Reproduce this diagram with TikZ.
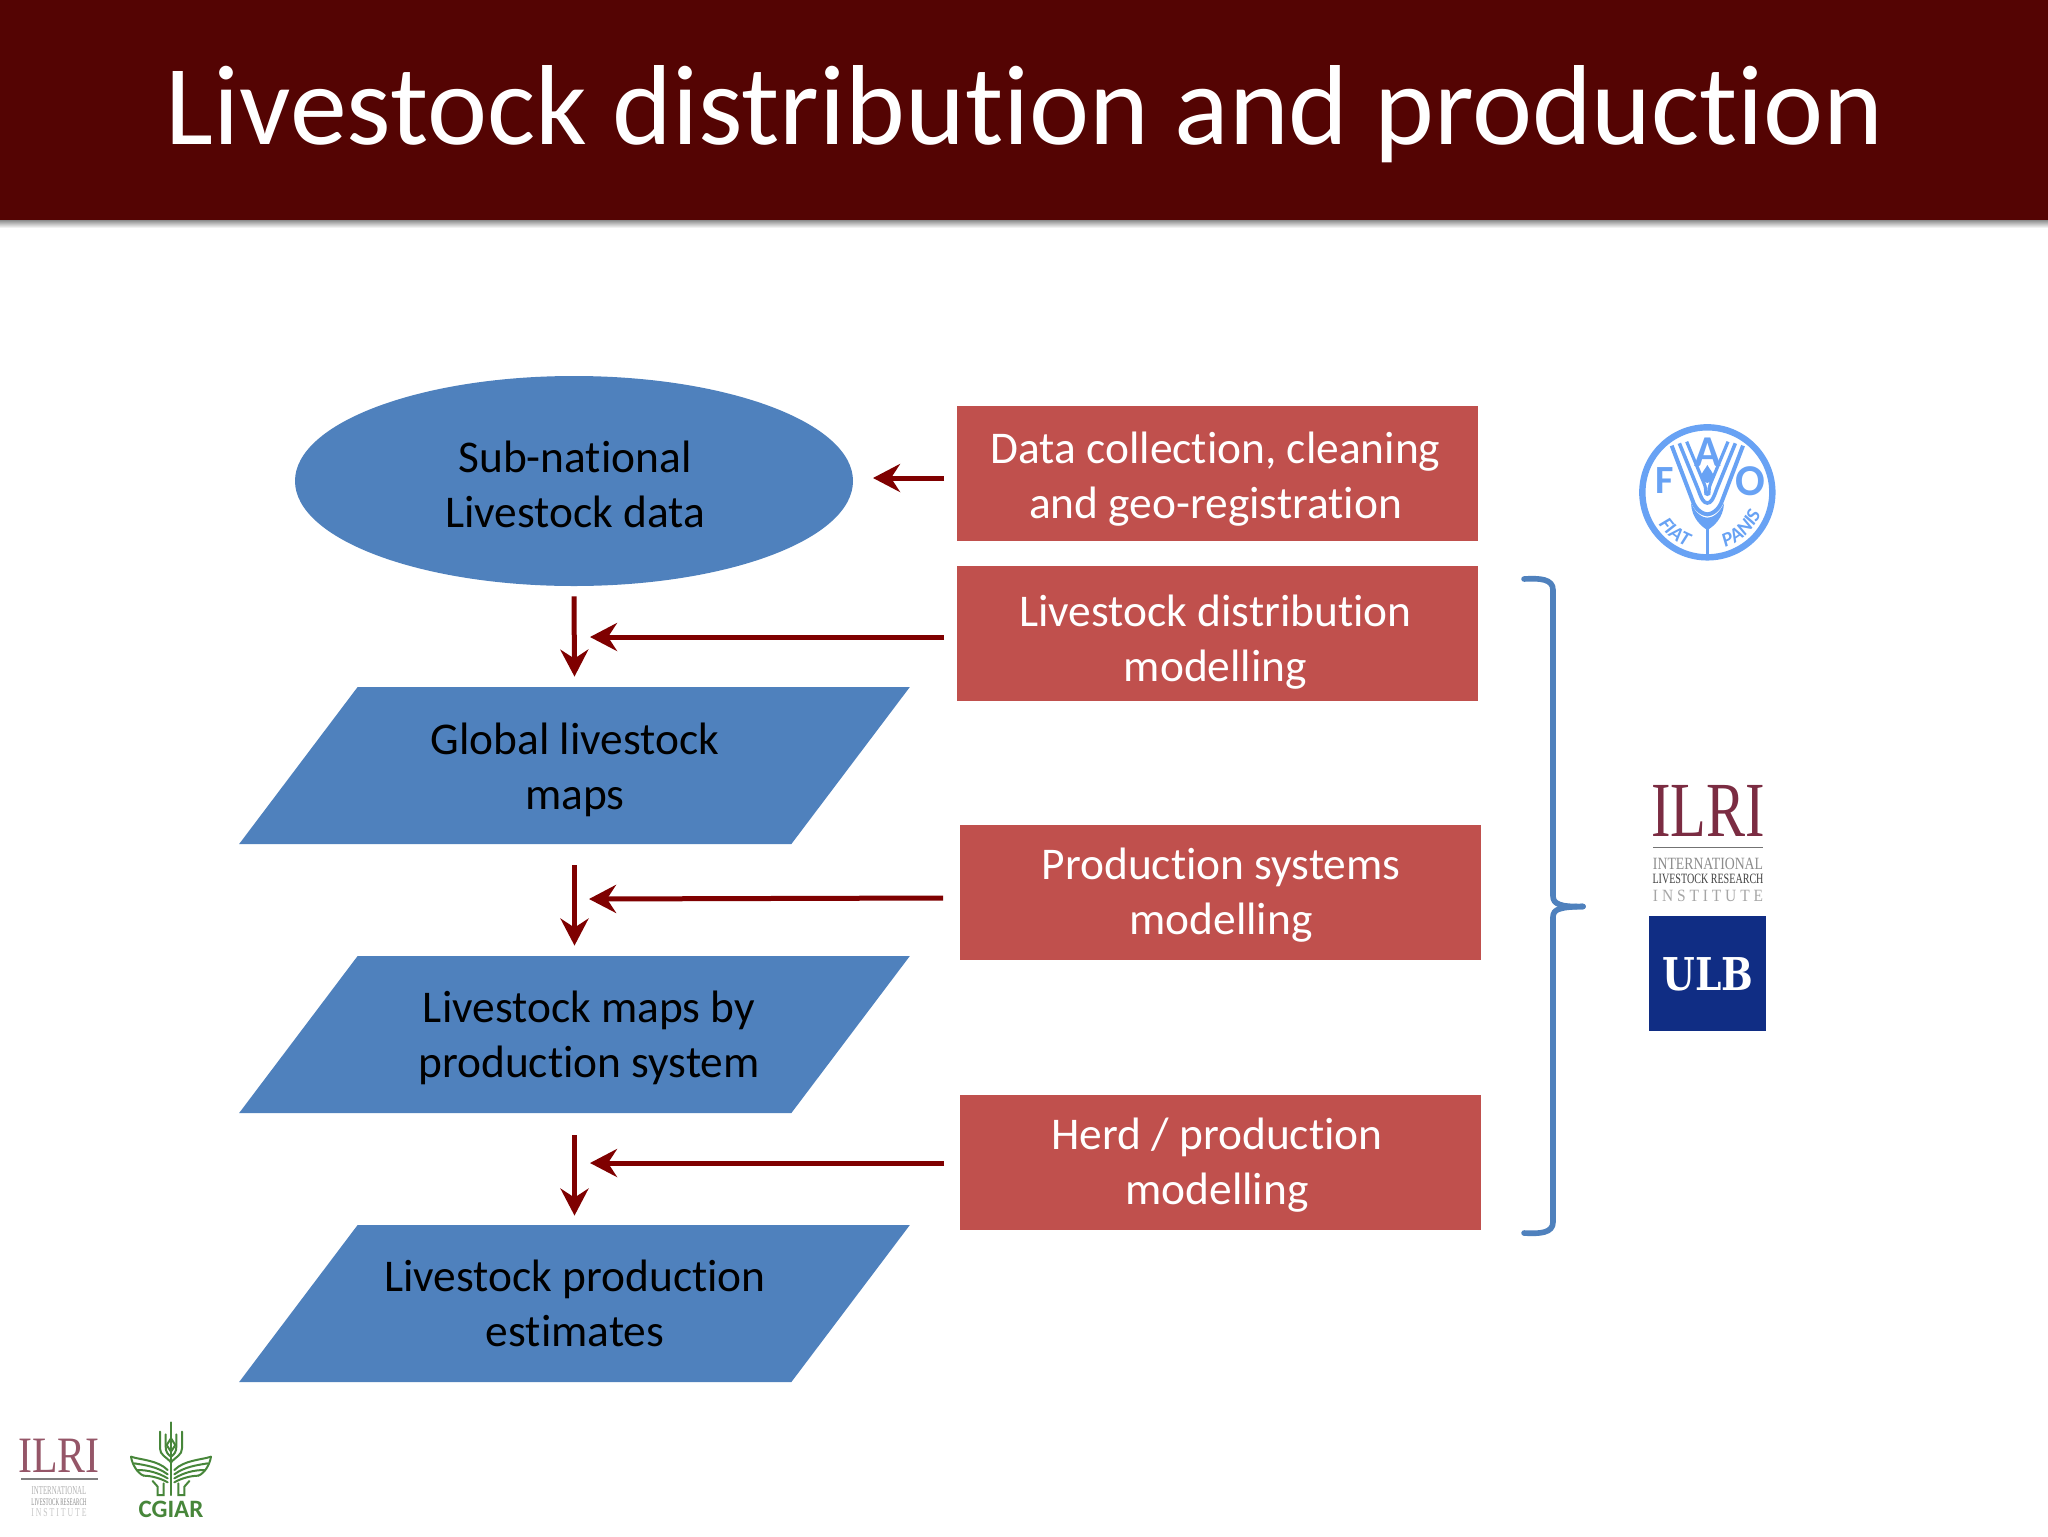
\documentclass[tikz,border=0pt]{standalone}
\usepackage{fontspec}
\setmainfont{Carlito}[Ligatures={NoCommon}]
\newfontfamily\seriffont{Liberation Serif}
\newfontfamily\slabfont{DejaVu Serif}
\usetikzlibrary{arrows.meta,shapes.geometric,decorations.text,calc}
\definecolor{headred}{HTML}{540403}
\definecolor{boxblue}{HTML}{4F81BD}
\definecolor{boxred}{HTML}{C0504D}
\definecolor{arrowred}{HTML}{7F0000}
\definecolor{faoblue}{HTML}{68A2F4}
\definecolor{ilrired}{HTML}{7B2C42}
\definecolor{ulbblue}{HTML}{102D84}
\definecolor{cgreen}{HTML}{47863A}
\tikzset{
  oval/.style={shape=ellipse,fill=boxblue,minimum width=279pt,minimum height=105pt,inner sep=0pt},
  para/.style={shape=trapezium,trapezium stretches=true,trapezium left angle=70,trapezium right angle=110,
     fill=boxblue,minimum width=335.5pt,minimum height=78.5pt,inner sep=0pt},
  redbox/.style={shape=rectangle,fill=boxred,minimum width=260.5pt,minimum height=67.5pt,inner sep=0pt},
  dark/.style={align=center,text=black,font=\fontsize{22.7}{27.4}\selectfont,inner sep=0pt},
  light/.style={align=center,text=white,font=\fontsize{22.7}{27.4}\selectfont,inner sep=0pt},
  flow/.style={draw=arrowred,line width=2.5pt,-{Stealth[length=13.5pt,width=14pt,inset=4.5pt]}},
  bracket/.style={draw=boxblue,line width=2.8pt,line cap=round},
  faotext/.style={text=faoblue,inner sep=0pt},
  logotext/.style={anchor=base,inner sep=0pt,transform shape},
  emblem/.style={draw=cgreen,line width=1pt,line cap=round},
}
\begin{document}
\begin{tikzpicture}[x=.5pt,y=-.5pt]
\useasboundingbox (0,0) rectangle (2048,1536);
\fill[white] (0,0) rectangle (2048,1536);
% header
\shade[top color=black!45,bottom color=white] (0,220) rectangle (2048,228);
\fill[headred] (0,0) rectangle (2048,220);
\node[text=white,anchor=base,inner sep=0pt,font=\fontsize{56.9}{60}\selectfont] (title) at (1025,144) {Livestock distribution and production};
% flow shapes
\node[oval] (sub) at (574,481) {};
\node[para] (p1) at (574.5,765.5) {\phantom{M}};
\node[para] (p2) at (574.5,1034.5) {\phantom{M}};
\node[para] (p3) at (574.5,1303.5) {\phantom{M}};
\node[dark] (subt) at (575,484) {Sub-national\\Livestock data};
\node[dark] (p1t) at (575,770) {Global livestock\\maps};
\node[dark] (p2t) at (589,1038) {Livestock maps by\\production system};
\node[dark] (p3t) at (575,1303) {Livestock production\\estimates};
% red boxes
\node[redbox] (r1) at (1217.5,473) {};
\node[redbox] (r2) at (1217.5,633.5) {};
\node[redbox] (r3) at (1220.5,892) {};
\node[redbox] (r4) at (1220.5,1162) {};
\node[light] (r1t) at (1215.5,479) {Data collection, cleaning\\and geo-registration};
\node[light] (r2t) at (1215.5,642) {Livestock distribution\\modelling};
\node[light] (r3t) at (1221,895) {Production systems\\modelling};
\node[light] (r4t) at (1217,1165) {Herd / production\\modelling};
% connectors
\draw[flow] ([yshift=-5pt]sub.south) -- ([yshift=5pt]p1.north);
\draw[flow] ([yshift=-10.5pt]p1.south) -- ([yshift=5pt]p2.north);
\draw[flow] ([yshift=-11pt]p2.south) -- ([yshift=4.5pt]p3.north);
\coordinate (t1) at (873,478);
\coordinate (t2) at (590,637);
\coordinate (t3) at (589,899);
\coordinate (t4) at (590,1163);
\coordinate (s1) at (944,478);
\coordinate (s2) at (944,637);
\coordinate (s3) at (943,898);
\coordinate (s4) at (944,1163);
\draw[flow] (s1) -- (t1);
\draw[flow] (s2) -- (t2);
\draw[flow] (s3) -- (t3);
\draw[flow] (s4) -- (t4);
% bracket
\draw[bracket] (1524,579) .. controls (1540,578) and (1553,579) .. (1553,590)
  -- (1553,896) .. controls (1553,904) and (1560,907) .. (1583,906.5);
\draw[bracket] (1524,1233) .. controls (1540,1234) and (1553,1233) .. (1553,1222)
  -- (1553,917) .. controls (1553,909) and (1560,907) .. (1583,906.5);
% FAO logo (coordinates are 3x crop coordinates)
\begin{scope}[shift={(1630,415)},x=.16667pt,y=-.16667pt]
  \draw[faoblue,line width=3.2pt] (232,232) circle (195);
  \foreach \ax/\ay/\bx/\by/\cy/\w in {125/92/187/255/298/2, 148/85/205/225/264/1.8, 170/80/222/205/238/1.6}{
    \draw[faoblue,line width=\w pt] (\ax,\ay) -- (\bx,\by) .. controls (\bx+10,\cy-10) and (222,\cy) .. (232,\cy)
       .. controls (242,\cy) and (464-\bx-10,\cy-10) .. (464-\bx,\by) -- (464-\ax,\ay);
  }
  \fill[faoblue] (183,265) .. controls (185,310) and (215,335) .. (232,345)
     .. controls (250,335) and (280,310) .. (282,265)
     .. controls (265,300) and (245,308) .. (232,308)
     .. controls (220,308) and (200,300) .. (183,265);
  \draw[faoblue,line width=1.5pt] (232,335) -- (232,425);
  \fill[faoblue] (232,150) .. controls (224,165) and (214,172) .. (214,185)
     .. controls (214,210) and (250,210) .. (250,185)
     .. controls (250,172) and (240,165) .. (232,150);
  \node[faotext,font=\fontsize{20}{20}\selectfont\bfseries] (faoF) at (105,198) {F};
  \node[faotext,font=\fontsize{22}{22}\selectfont\bfseries] (faoA) at (232,112) {A};
  \node[faotext,font=\fontsize{22}{22}\selectfont\bfseries] (faoO) at (362,200) {O};
\end{scope}
\path[postaction={decorate,decoration={text along path,text align=center,
   text={|\fontsize{10}{10}\selectfont\bfseries\itshape\color{faoblue}|FIAT}}}]
   (1707,492) ++(162:58) arc[start angle=162,end angle=95,radius=58];
\path[postaction={decorate,decoration={text along path,text align=center,
   text={|\fontsize{10}{10}\selectfont\bfseries\itshape\color{faoblue}|PANIS}}}]
   (1707,492) ++(82:58) arc[start angle=82,end angle=12,radius=58];
% ILRI logo large
\node[logotext,xscale=.75,text=ilrired,font=\seriffont\fontsize{39}{39}\selectfont] (ilri) at (1708,836) {ILRI};
\draw[black!55,line width=.5pt] (1653,847) -- (1763,847);
\node[logotext,xscale=.8,text=black!45,font=\seriffont\fontsize{8.6}{9}\selectfont] (ilri1) at (1708,869) {INTERNATIONAL};
\node[logotext,xscale=.71,text=black!75,font=\seriffont\fontsize{7.1}{8}\selectfont] (ilri2) at (1708,883) {LIVESTOCK RESEARCH};
\node[logotext,xscale=.9,text=black!35,font=\seriffont\fontsize{8.6}{9}\selectfont] (ilri3) at (1708,901) {I N S T I T U T E};
% ULB
\fill[ulbblue] (1649,916) rectangle (1766,1031);
\node[logotext,xscale=.83,anchor=center,text=white,font=\slabfont\fontsize{22.6}{23}\selectfont\bfseries] (ulb) at (1708,974) {ULB};
% small ILRI logo
\node[logotext,xscale=.82,text=ilrired!80,font=\seriffont\fontsize{25.5}{26}\selectfont] (ilris) at (59,1472) {ILRI};
\draw[black!50,line width=.6pt] (21,1479) -- (98,1479);
\node[logotext,xscale=.57,text=black!30,font=\seriffont\fontsize{6}{6}\selectfont] (ilris1) at (59,1494) {INTERNATIONAL};
\node[logotext,xscale=.5,text=black!45,font=\seriffont\fontsize{5}{5}\selectfont] (ilris2) at (59,1505) {LIVESTOCK RESEARCH};
\node[logotext,xscale=.65,text=black!22,font=\seriffont\fontsize{6}{6}\selectfont] (ilris3) at (59,1516) {I N S T I T U T E};
% CGIAR logo
\node[logotext,text=cgreen,font=\fontsize{12.5}{13}\selectfont\bfseries] (cgiar) at (171,1517) {CGIAR};
\begin{scope}[shift={(171,1415)},x=.16667pt,y=-.16667pt]
  \draw[emblem] (0,22) -- (0,240);
  \foreach \f in {1,-1}{
    \begin{scope}[xscale=\f]
      \draw[emblem] (-33,50) -- (-33,100) .. controls (-33,120) and (-15,125) .. (0,142);
      \draw[emblem] (-16,58) -- (-16,95) .. controls (-16,110) and (-10,118) .. (0,125);
      \draw[emblem] (0,70) -- (-13,90) -- (0,110);
      \draw[emblem] (-120,125) .. controls (-90,135) and (-40,135) .. (-10,165);
      \draw[emblem] (-120,125) .. controls (-116,150) and (-100,175) .. (-82,182);
      \draw[emblem] (-110,145) .. controls (-80,150) and (-40,155) .. (-10,178);
      \draw[emblem] (-100,165) .. controls (-70,165) and (-40,172) .. (-10,190);
      \draw[emblem] (-82,182) .. controls (-60,182) and (-30,190) .. (-10,202);
      \draw[emblem] (-55,198) -- (-40,215) -- (-40,240) -- (-22,240) -- (-22,205);
    \end{scope}
  }
\end{scope}
\end{tikzpicture}
\end{document}
